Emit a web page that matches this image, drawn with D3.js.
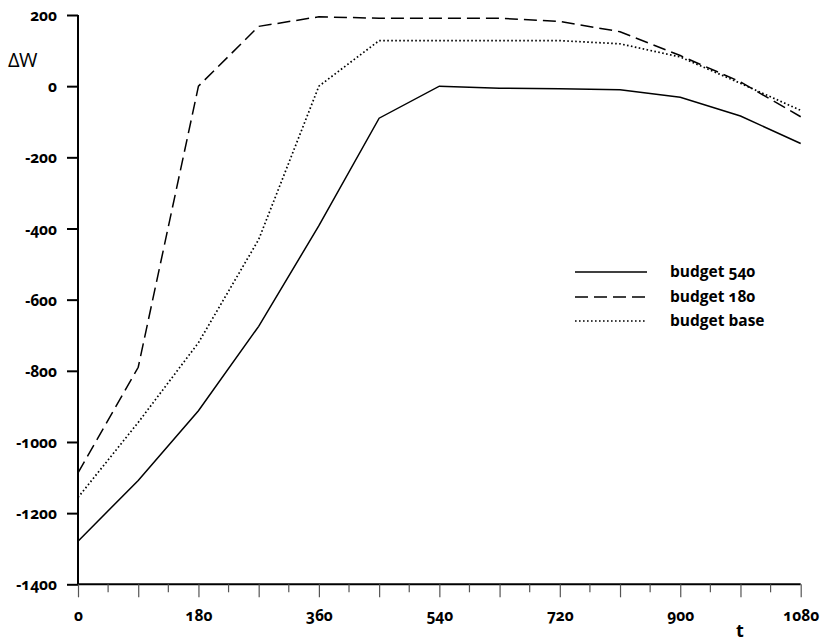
<!DOCTYPE html>
<html>
<head>
<meta charset="utf-8">
<script src="https://cdn.jsdelivr.net/npm/d3@7"></script>
<style>
  html, body { margin: 0; padding: 0; background: #fff; }
  svg { display: block; }
  .lbl { font-family: "Open Sans", "Noto Sans", sans-serif; font-weight: 700; font-feature-settings: "onum" 1, "lnum" 0; fill: #000; }
</style>
</head>
<body>
<svg id="chart" width="821" height="641"></svg>
<script>
// time steps (t) and welfare change for each budget scenario
const times = [0, 90, 180, 270, 360, 450, 540, 630, 720, 810, 900, 990, 1080];
const budget540 = [-1279, -1108, -912, -675, -392, -90, 0, -6, -7, -10, -31, -84, -161];
const budget180 = [-1087, -790, 0, 168, 195, 191, 191, 191, 182, 153, 86, 12, -86];
const budgetBase = [-1156, -945, -721, -431, 0, 128, 128, 128, 128, 119, 82, 8, -68];

const xTicks = [0, 180, 360, 540, 720, 900, 1080];
const yTicks = [200, 0, -200, -400, -600, -800, -1000, -1200, -1400];

const seriesNames = ["budget 540", "budget 180", "budget base"];
const seriesValues = [budget540, budget180, budgetBase];
const dashes = [null, "13,6", "1.6,2.4"];

const svg = d3.select("#chart");
const x = d3.scaleLinear().domain([0, 1080]).range([78, 800.7]);
const y = d3.scaleLinear().domain([-1400, 200]).range([584.3, 15]);

// y axis
const yAxis = svg.append("g").attr("transform", `translate(${x(0)},0)`)
  .call(d3.axisLeft(y).tickValues(yTicks).tickSize(11).tickPadding(10).tickFormat(d => d));
yAxis.select(".domain").attr("d", `M0,${y(200)}V${y(-1400)}`).attr("stroke-width", 2);
yAxis.selectAll(".tick line").attr("stroke-width", 2);
yAxis.selectAll(".tick text").attr("class", "lbl").attr("font-size", 15.5).attr("dy", "0.36em");

// x axis: major ticks every 90, minor ticks halfway between
const minor = d3.range(45, 1080, 90);
const major = d3.range(0, 1081, 90);
const xg = svg.append("g").attr("transform", `translate(0,${y(-1400)})`);
xg.call(d3.axisBottom(x).tickValues(major).tickSize(13).tickFormat(d => xTicks.includes(d) ? d : ""));
xg.select(".domain").attr("d", `M${x(0)},0H${x(1080)}`).attr("stroke-width", 2);
xg.selectAll(".tick line").attr("stroke", "#555").attr("stroke-width", 1.2);
xg.selectAll(".tick text").attr("class", "lbl").attr("font-size", 15.5).attr("y", 37).attr("dy", 0);
xg.selectAll(".minor").data(minor).join("line")
  .attr("x1", d => x(d)).attr("x2", d => x(d)).attr("y1", 0).attr("y2", 8)
  .attr("stroke", "#555").attr("stroke-width", 1.2);

// axis titles
svg.append("text").attr("x", 8).attr("y", 67).attr("font-family", "'Open Sans', sans-serif")
  .attr("font-size", 20).attr("font-weight", 500).attr("letter-spacing", -0.5).text("ΔW");
svg.append("text").attr("class", "lbl").attr("x", 740).attr("y", 637).attr("text-anchor", "middle")
  .attr("font-size", 18).text("t");

// series lines
const line = d3.line().x((d, i) => x(times[i])).y(d => y(d));
seriesValues.forEach((vals, k) => {
  svg.append("path").datum(vals).attr("d", line)
    .attr("fill", "none").attr("stroke", "#000").attr("stroke-width", k === 2 ? 1.7 : 1.5)
    .attr("stroke-dasharray", dashes[k]);
});

// legend
const legendY = [272, 297, 321];
seriesNames.forEach((name, k) => {
  svg.append("line").attr("x1", 575).attr("x2", 647).attr("y1", legendY[k]).attr("y2", legendY[k])
    .attr("stroke", "#000").attr("stroke-width", k === 2 ? 1.7 : 1.5).attr("stroke-dasharray", dashes[k]);
  svg.append("text").attr("class", "lbl").attr("x", 670).attr("y", legendY[k] + 5)
    .attr("font-size", 15.5).text(name);
});
</script>
</body>
</html>
